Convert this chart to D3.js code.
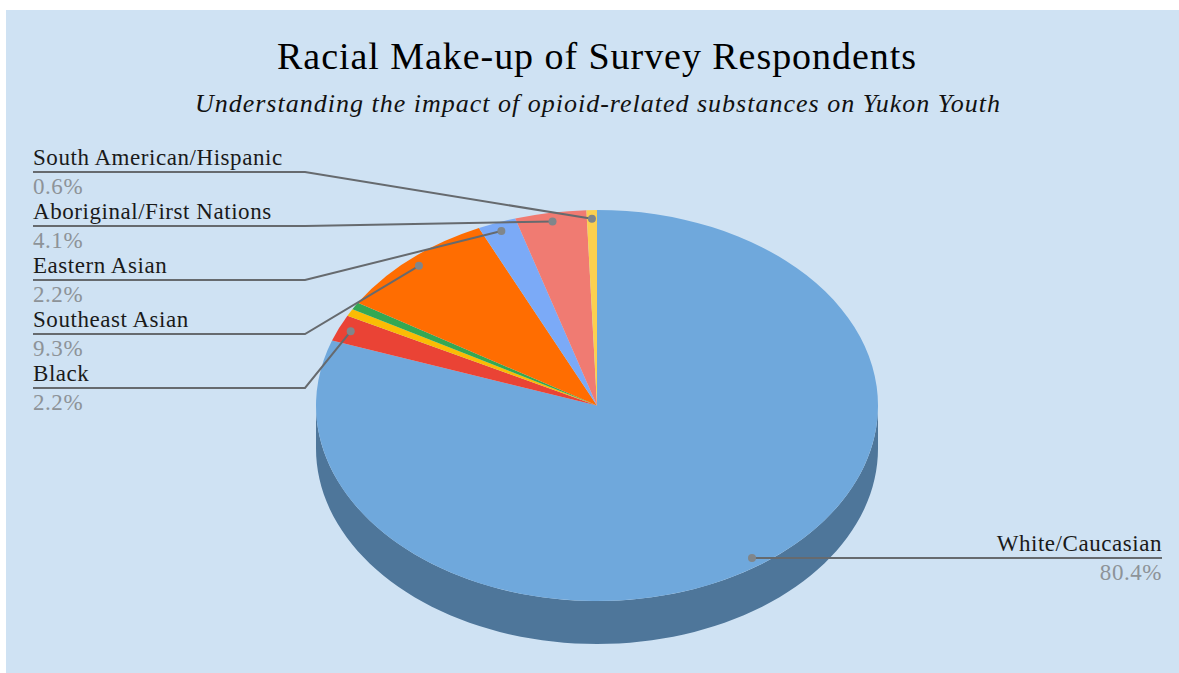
<!DOCTYPE html>
<html>
<head>
<meta charset="utf-8">
<script src="https://cdn.jsdelivr.net/npm/d3@7"></script>
<style>
  html, body { margin: 0; padding: 0; background: #ffffff; }
  svg { display: block; }
</style>
</head>
<body>
<svg id="chart" width="1179" height="673"></svg>
<script>
// Survey respondents by racial group (share of respondents, %)
const categories = [
  "White/Caucasian",
  "Black",
  "",
  "",
  "Southeast Asian",
  "Eastern Asian",
  "Aboriginal/First Nations",
  "South American/Hispanic"
];
const shares = [80.4, 2.2, 0.6, 0.6, 9.3, 2.2, 4.1, 0.6];
const percentLabels = ["80.4%", "2.2%", "", "", "9.3%", "2.2%", "4.1%", "0.6%"];
const sliceColors = ["#6fa8dc", "#ea4335", "#fbbc04", "#34a853", "#ff6d01", "#7baaf7", "#f07b72", "#fcd04f"];

const title = "Racial Make-up of Survey Respondents";
const subtitle = "Understanding the impact of opioid-related substances on Yukon Youth";

const W = 1179, H = 673;
const svg = d3.select("#chart");
const serif = "'Liberation Serif', 'Times New Roman', serif";

// panel background
svg.append("rect")
  .attr("x", 6).attr("y", 10)
  .attr("width", W - 6).attr("height", H - 10)
  .attr("fill", "#cfe2f3");

// titles
svg.append("text")
  .attr("x", 597).attr("y", 69)
  .attr("text-anchor", "middle")
  .attr("font-family", serif)
  .attr("font-size", 38)
  .attr("letter-spacing", 0.95)
  .attr("fill", "#000")
  .text(title);

svg.append("text")
  .attr("x", 598).attr("y", 112)
  .attr("text-anchor", "middle")
  .attr("font-family", serif)
  .attr("font-style", "italic")
  .attr("font-size", 26)
  .attr("letter-spacing", 1)
  .attr("fill", "#111")
  .text(subtitle);

// pie geometry (tilted disc)
const cx = 597, cy = 405.5, rx = 281, ry = 195.5, depth = 43;

const data = categories.map((c, i) => ({
  name: c, value: shares[i], pct: percentLabels[i], color: sliceColors[i]
}));

const pie = d3.pie().sort(null).value(d => d.value)
  .startAngle(0).endAngle(2 * Math.PI);
const arcs = pie(data);

const px = (a, f = 1) => cx + rx * f * Math.sin(a);
const py = (a, f = 1) => cy - ry * f * Math.cos(a);

// outer wall: only the front half (angles between PI/2 and 3PI/2) is visible
const wall = svg.append("g");
arcs.forEach(a => {
  const a0 = Math.max(a.startAngle, Math.PI / 2);
  const a1 = Math.min(a.endAngle, 3 * Math.PI / 2);
  if (a1 <= a0) return;
  const n = 80;
  const top = d3.range(n + 1).map(k => a0 + (a1 - a0) * k / n);
  const pts = top.map(t => [px(t), py(t)])
    .concat(top.slice().reverse().map(t => [px(t), py(t) + depth]));
  wall.append("path")
    .attr("d", d3.line()(pts) + "Z")
    .attr("fill", d3.color(a.data.color).darker(1).formatHex());
});

// top face: circular arcs squashed into an ellipse
const arcGen = d3.arc().innerRadius(0).outerRadius(rx);
svg.append("g")
  .attr("transform", `translate(${cx},${cy}) scale(1,${ry / rx})`)
  .selectAll("path")
  .data(arcs)
  .join("path")
  .attr("d", arcGen)
  .attr("fill", d => d.data.color);

// leader lines and labels
const lineColor = "#666a6e";
const dotColor = "#80868b";
const pctColor = "#8d9398";
const leftOrder = ["South American/Hispanic", "Aboriginal/First Nations", "Eastern Asian", "Southeast Asian", "Black"];
const labels = svg.append("g");

arcs.forEach(a => {
  if (!a.data.name) return;
  const mid = (a.startAngle + a.endAngle) / 2;
  const dx = px(mid, 0.955), dy = py(mid, 0.955);
  let pts, tx, anchor, ly;
  const li = leftOrder.indexOf(a.data.name);
  if (li >= 0) {
    ly = 172 + li * 54;
    pts = [[33, ly], [305, ly], [dx, dy]];
    tx = 33; anchor = "start";
  } else {
    ly = dy;
    pts = [[dx, dy], [1162, dy]];
    tx = 1162; anchor = "end";
  }
  labels.append("path")
    .attr("d", d3.line()(pts))
    .attr("fill", "none")
    .attr("stroke", lineColor)
    .attr("stroke-width", 2);
  labels.append("circle")
    .attr("cx", dx).attr("cy", dy).attr("r", 4)
    .attr("fill", dotColor);
  labels.append("text")
    .attr("x", tx).attr("y", ly - 7)
    .attr("text-anchor", anchor)
    .attr("font-family", serif)
    .attr("font-size", 23)
    .attr("letter-spacing", 0.55)
    .attr("fill", "#1a1a1a")
    .text(a.data.name);
  labels.append("text")
    .attr("x", tx).attr("y", ly + 22)
    .attr("text-anchor", anchor)
    .attr("font-family", serif)
    .attr("font-size", 23)
    .attr("letter-spacing", 0.55)
    .attr("fill", pctColor)
    .text(a.data.pct);
});
</script>
</body>
</html>
